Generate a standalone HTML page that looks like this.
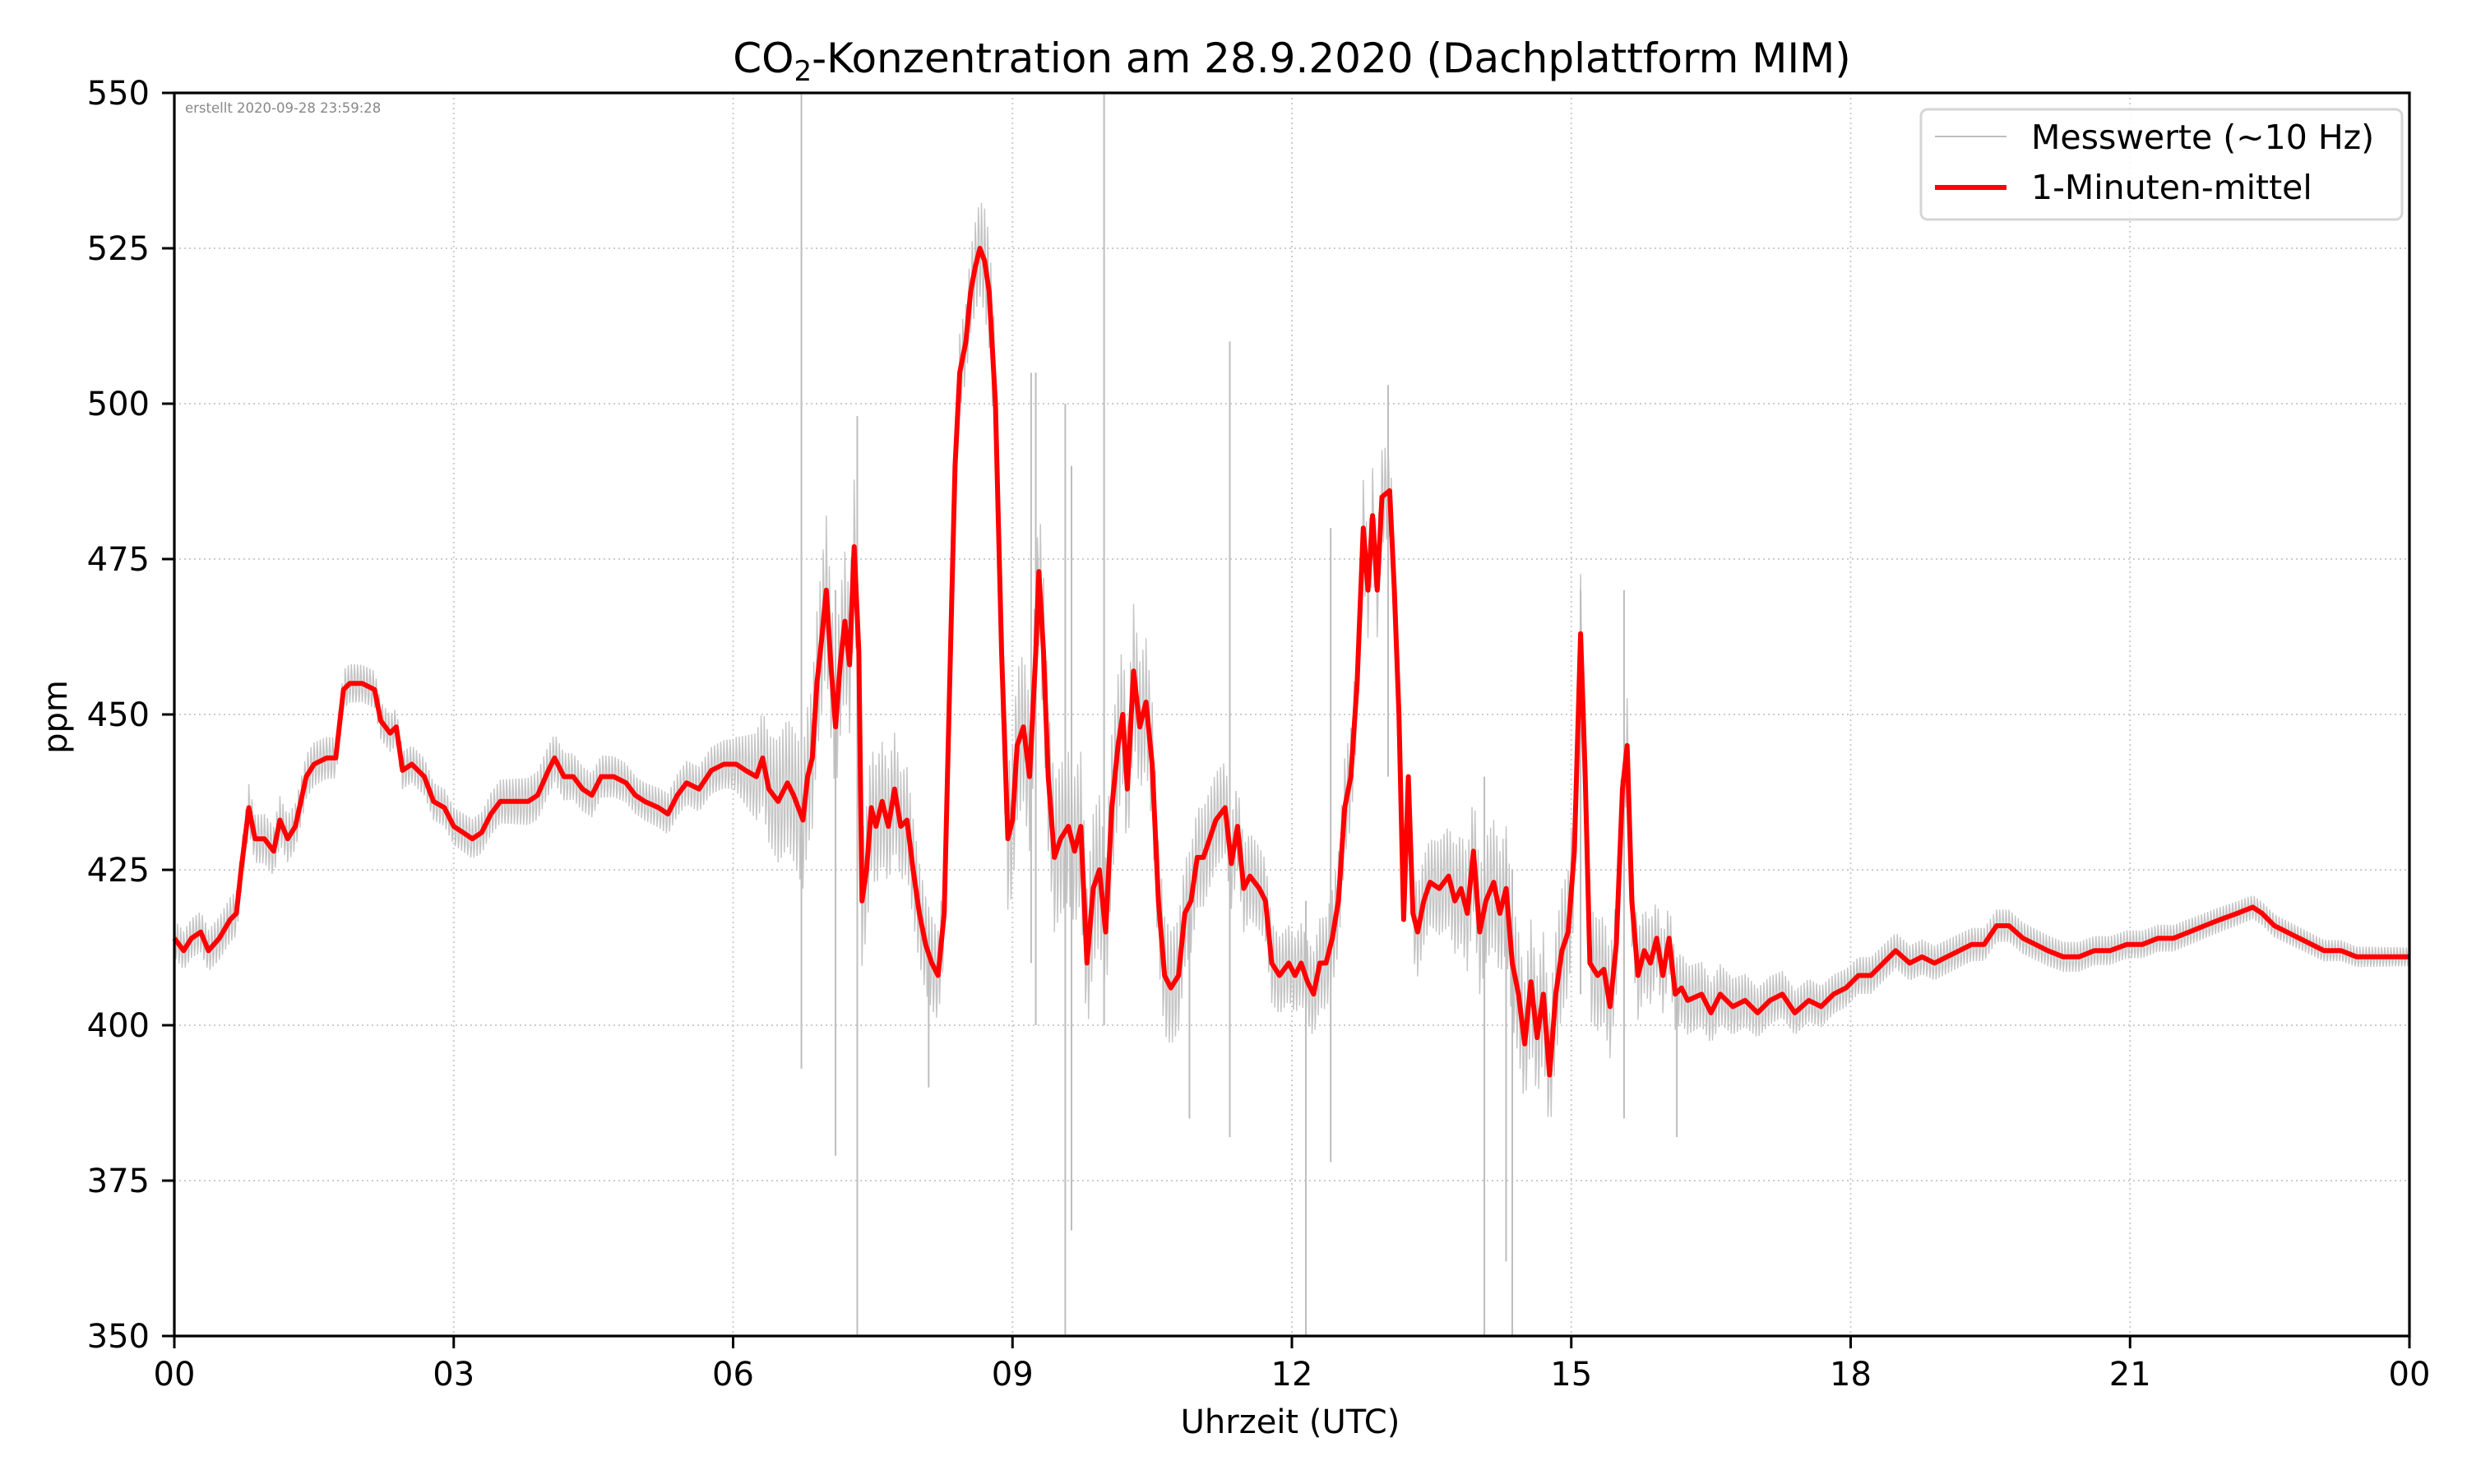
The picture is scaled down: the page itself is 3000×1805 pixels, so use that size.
<!DOCTYPE html>
<html><head><meta charset="utf-8"><style>
html,body{margin:0;padding:0;background:#fff}
svg text{font-family:"DejaVu Sans","Liberation Sans",sans-serif}
</style></head><body>
<svg id="chart" width="3000" height="1800" viewBox="0 0 3000 1800" xmlns="http://www.w3.org/2000/svg">
<rect width="3000" height="1800" fill="#fff"/>
<text x="1571" y="88" font-size="50" text-anchor="middle">CO<tspan font-size="34" dy="10">2</tspan><tspan dy="-10">-Konzentration am 28.9.2020 (Dachplattform MIM)</tspan></text>
<g id="grid"></g>
<g id="grey"></g>
<g id="red"></g>
<rect x="212" y="113" width="2718" height="1512" fill="none" stroke="#000" stroke-width="3.2"/>
<text x="225" y="137" font-size="16.5" fill="#888">erstellt 2020-09-28 23:59:28</text>
<g id="axes"></g>
<text x="1569" y="1743" font-size="40" text-anchor="middle">Uhrzeit (UTC)</text>
<text x="81" y="872" font-size="40" text-anchor="middle" transform="rotate(-90 81 872)">ppm</text>
<g>
<rect x="2336" y="133" width="585" height="134" rx="8" fill="#fff" fill-opacity="0.85" stroke="#d5d5d5" stroke-width="3"/>
<line x1="2353" y1="166" x2="2440" y2="166" stroke="#bdbdbd" stroke-width="2"/>
<text x="2470" y="181" font-size="41">Messwerte (~10 Hz)</text>
<line x1="2353" y1="228" x2="2440" y2="228" stroke="#f00" stroke-width="6"/>
<text x="2470" y="242" font-size="41">1-Minuten-mittel</text>
</g>
</svg>
<script>
const meanMinutes=[0,6,11,17,22,29,36,40,43,48,52,58,64,68,73,78,85,90,98,104,109,113,121,129,133,139,143,147,153,161,167,174,180,186,192,198,204,210,218,228,234,241,245,251,257,263,269,275,283,291,297,303,312,318,324,330,338,346,354,362,368,375,379,383,389,395,399,405,408,411,414,417,420,423,426,429,432,435,438,441,443,446,449,452,456,460,464,468,472,476,480,484,488,492,496,500,503,506,510,513,516,519,522,525,529,533,537,540,543,547,551,555,557,560,563,567,571,576,580,584,588,592,596,600,604,608,611,614,618,622,626,630,634,638,642,647,651,655,659,663,667,671,677,681,685,689,693,699,703,707,712,718,722,726,730,734,738,742,746,750,754,758,762,766,769,772,775,778,783,786,789,792,795,798,801,805,809,815,821,825,829,833,837,841,845,850,854,858,862,866,870,874,878,882,886,890,894,898,902,906,909,912,917,921,925,929,933,936,939,943,947,951,955,959,963,967,971,975,984,990,996,1004,1012,1020,1028,1036,1044,1053,1061,1069,1077,1085,1093,1101,1109,1118,1126,1134,1142,1150,1158,1166,1174,1182,1191,1199,1207,1217,1227,1237,1247,1258,1268,1278,1288,1298,1308,1318,1329,1339,1345,1353,1361,1369,1377,1385,1396,1406,1416,1426,1440];
const meanValues=[414,412,414,415,412,414,417,418,425,435,430,430,428,433,430,432,440,442,443,443,454,455,455,454,449,447,448,441,442,440,436,435,432,431,430,431,434,436,436,436,437,441,443,440,440,438,437,440,440,439,437,436,435,434,437,439,438,441,442,442,441,440,443,438,436,439,437,433,440,443,455,462,470,458,448,458,465,458,477,460,420,425,435,432,436,432,438,432,433,425,418,413,410,408,418,460,490,505,510,518,522,525,523,518,500,460,430,433,445,448,440,460,473,460,440,427,430,432,428,432,410,422,425,415,435,445,450,438,457,448,452,442,420,408,406,408,418,420,427,427,430,433,435,426,432,422,424,422,420,410,408,410,408,410,407,405,410,410,414,420,435,440,455,480,470,482,470,485,486,470,450,417,440,418,415,420,423,422,424,420,422,418,428,415,420,423,418,422,410,405,397,407,398,405,392,405,412,415,428,463,440,410,408,409,403,413,438,445,420,408,412,410,414,408,414,405,406,404,405,402,405,403,404,402,404,405,402,404,403,405,406,408,408,410,412,410,411,410,411,412,413,413,416,416,414,413,412,411,411,412,412,413,413,414,414,415,416,417,418,419,418,416,415,414,413,412,412,411,411,411,411];
const noiseHours=[0,1,2,3,4,5,6,6.5,7,8,8.5,9,10,11,12,12.5,13.5,14,15,16,17,18,20,24];
const noiseAmp=[3,4,3,3,4,3,4,10,12,8,6,12,12,8,6,8,7,10,10,6,4,3,2.5,1.5];
const spikeMinutes=[404,426,440,486,552,555,574,578,599,654,680,729,745,782,844,858,862,906,934,968];
const spikeLow=[393,379,350,390,410,400,350,367,400,385,382,350,378,440,350,362,350,405,385,382];
const spikeHigh=[550,470,498,415,505,505,500,490,550,420,510,420,480,503,440,430,425,470,470,410];
const yTicks=[350,375,400,425,450,475,500,525,550];
const xTickHours=[0,3,6,9,12,15,18,21,24];
const xTickLabels=['00','03','06','09','12','15','18','21','00'];

const L=212,R=2930,T=113,B=1625,NS='http://www.w3.org/2000/svg';
const xs=m=>L+(m/1440)*(R-L);
const ys=v=>B-(v-350)/200*(B-T);
function mk(tag,attrs,parent){const e=document.createElementNS(NS,tag);for(const k in attrs)e.setAttribute(k,attrs[k]);parent.appendChild(e);return e;}
function interp(xa,ya,x){for(let i=1;i<xa.length;i++){if(x<=xa[i]){const t=(x-xa[i-1])/(xa[i]-xa[i-1]);return ya[i-1]+t*(ya[i]-ya[i-1]);}}return ya[ya.length-1];}
const grid=document.getElementById('grid'),axes=document.getElementById('axes');
yTicks.forEach(v=>{
 const g=mk('line',{x1:L,x2:R,y1:ys(v),y2:ys(v),stroke:'#ccc','stroke-width':2,'stroke-dasharray':'2,4'},grid);
 
 
 const t=mk('line',{x1:L-15,x2:L,y1:ys(v),y2:ys(v),stroke:'#000','stroke-width':3},axes);
 
 
 const l=mk('text',{x:182,y:ys(v)+14,'font-size':40,'text-anchor':'end'},axes);l.textContent=v;
 
 
});
xTickHours.forEach((h,i)=>{
 const x=xs(h*60);
 const g=mk('line',{x1:x,x2:x,y1:T,y2:B,stroke:'#ccc','stroke-width':2,'stroke-dasharray':'2,4'},grid);
 
 
 const t=mk('line',{x1:x,x2:x,y1:B,y2:B+15,stroke:'#000','stroke-width':3},axes);
 
 
 const l=mk('text',{x:x,y:1685,'font-size':40,'text-anchor':'middle'},axes);l.textContent=xTickLabels[i];
 
 
});
const grey=document.getElementById('grey');
let pts=[];
for(let m=0;m<=1440;m+=0.5){
 const v=interp(meanMinutes,meanValues,m);
 const a=interp(noiseHours,noiseAmp,m/60);
 const k=Math.round(m*2)%4;
 const off=k===0?a:(k===2?-a:(k===1?a*0.4:-a*0.5));
 pts.push(xs(m).toFixed(1)+','+ys(v+off).toFixed(1));
}
const gp=mk('polyline',{points:pts.join(' '),fill:'none',stroke:'#c4c4c4','stroke-width':1.4},grey);


spikeMinutes.forEach((m,i)=>{
 const s=mk('line',{x1:xs(m),x2:xs(m),y1:ys(Math.max(350,spikeLow[i])),y2:ys(Math.min(550,spikeHigh[i])),stroke:'#bdbdbd','stroke-width':2},grey);
 
 
});
const red=document.getElementById('red');
const rp=mk('polyline',{points:meanMinutes.map((m,i)=>xs(m).toFixed(1)+','+ys(meanValues[i]).toFixed(1)).join(' '),fill:'none',stroke:'#f00','stroke-width':6,'stroke-linejoin':'round'},red);


</script>
</body></html>
